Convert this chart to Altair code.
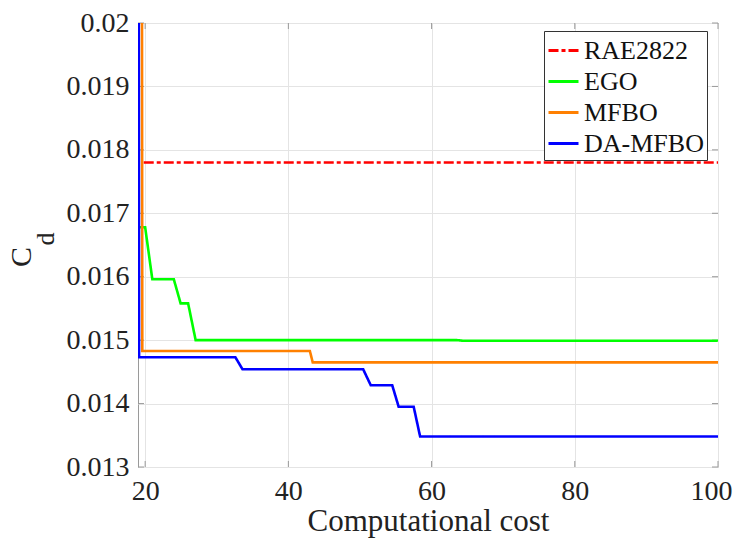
import altair as alt
import pandas as pd

# ---- data ----
series_names = ["RAE2822", "EGO", "MFBO", "DA-MFBO"]
series_colors = ["#ff0000", "#00ff00", "#ff8000", "#0000ff"]

rae_x = [19.8, 100.0]
rae_y = [0.0178, 0.0178]

ego_x = [19.0, 19.0, 20.0, 21.0, 24.0, 24.95, 26.0, 27.05, 63.5, 64.5, 100.0]
ego_y = [0.021, 0.01678, 0.01678, 0.01596, 0.01596, 0.01558, 0.01558, 0.0150, 0.0150, 0.01499, 0.01499]

mfbo_x = [19.55, 19.6, 43.0, 43.4, 100.0]
mfbo_y = [0.021, 0.01483, 0.01483, 0.01465, 0.01465]

da_x = [19.1, 19.15, 32.6, 33.6, 50.45, 51.5, 54.5, 55.4, 57.5, 58.4, 100.0]
da_y = [0.021, 0.01473, 0.01473, 0.01454, 0.01454, 0.01429, 0.01429, 0.01395, 0.01395, 0.01348, 0.01348]

x_ticks = [20, 40, 60, 80, 100]
y_ticks = [0.013, 0.014, 0.015, 0.016, 0.017, 0.018, 0.019, 0.02]
x_domain = [19.0, 100.0]
y_domain = [0.013, 0.02]

x_title = "Computational cost"
y_title_main = "C"
y_title_sub = "d"

# ---- build table ----
rows = []
for name, xs, ys in [("RAE2822", rae_x, rae_y), ("EGO", ego_x, ego_y),
                     ("MFBO", mfbo_x, mfbo_y), ("DA-MFBO", da_x, da_y)]:
    for i, (xv, yv) in enumerate(zip(xs, ys)):
        rows.append({"series": name, "x": xv, "y": yv, "i": i})
df = pd.DataFrame(rows)

FONT = "Liberation Serif"
W, H = 580, 444
AXIS_COLOR = "#9a9a9a"

x_enc = alt.X("x:Q", scale=alt.Scale(domain=x_domain, nice=False, zero=False),
              axis=alt.Axis(values=x_ticks, title=x_title, grid=True, gridColor="#e4e4e4",
                            domain=False, ticks=False, tickSize=0, labelFont=FONT,
                            labelFontSize=28, labelColor="#222", labelPadding=10,
                            labelFlush=1, labelFlushOffset=14, labelOverlap=False,
                            titleFont=FONT, titleFontSize=31, titleFontWeight="normal",
                            titleColor="#222", titleY=63, titleBaseline="alphabetic"))
y_enc = alt.Y("y:Q", scale=alt.Scale(domain=y_domain, nice=False, zero=False),
              axis=alt.Axis(values=y_ticks, title=None, grid=True, gridColor="#e4e4e4",
                            domain=False, ticks=False, tickSize=0, labelFont=FONT,
                            labelFontSize=28, labelColor="#222", labelPadding=9,
                            labelFlush=False, labelOverlap=False, format="~g"))

leg = alt.Legend(title=None, orient="none", legendX=406, legendY=8,
                 labelFont=FONT, labelFontSize=26, labelColor="#111",
                 symbolType="stroke", symbolSize=900, symbolStrokeWidth=3,
                 strokeColor="#333", fillColor="white", padding=3, rowPadding=1,
                 labelOffset=4, cornerRadius=0)
color_enc = alt.Color("series:N", scale=alt.Scale(domain=series_names, range=series_colors),
                      legend=leg)
dash_enc = alt.StrokeDash("series:N",
                          scale=alt.Scale(domain=series_names,
                                          range=[[10, 3, 4, 3], [1, 0], [1, 0], [1, 0]]),
                          legend=leg)


def series_layer(name):
    return (alt.Chart(df).transform_filter(alt.datum.series == name)
            .mark_line(clip=True, strokeWidth=2.6)
            .encode(x=x_enc, y=y_enc, color=color_enc, strokeDash=dash_enc,
                    order=alt.Order("i:Q")))


lines = [series_layer("EGO"), series_layer("MFBO"), series_layer("DA-MFBO"), series_layer("RAE2822")]

xt = pd.DataFrame({"x": x_ticks})
yt = pd.DataFrame({"y": y_ticks})
tick_bottom = alt.Chart(xt).mark_rule(color=AXIS_COLOR).encode(x=x_enc, y=alt.value(H), y2=alt.value(H - 6))
tick_top = alt.Chart(xt).mark_rule(color=AXIS_COLOR).encode(x=x_enc, y=alt.value(0), y2=alt.value(6))
tick_left = alt.Chart(yt).mark_rule(color=AXIS_COLOR).encode(y=y_enc, x=alt.value(0), x2=alt.value(6))
tick_right = alt.Chart(yt).mark_rule(color=AXIS_COLOR).encode(y=y_enc, x=alt.value(W), x2=alt.value(W - 6))

t_main = alt.Chart(pd.DataFrame({"t": [y_title_main]})).mark_text(
    font=FONT, fontSize=30, angle=270, color="#222", baseline="middle", align="center"
).encode(text="t:N", x=alt.value(-116), y=alt.value(234))
t_sub = alt.Chart(pd.DataFrame({"t": [y_title_sub]})).mark_text(
    font=FONT, fontSize=26, angle=270, color="#222", baseline="middle", align="center"
).encode(text="t:N", x=alt.value(-92), y=alt.value(216))

chart = (alt.layer(tick_bottom, tick_top, tick_left, tick_right, *lines, t_main, t_sub)
         .properties(width=W, height=H, autosize=alt.AutoSizeParams(type="none"),
                     padding={"left": 130, "top": 15, "right": 16, "bottom": 71},
                     background="white")
         .configure(font=FONT)
         .configure_axis(labelFont=FONT, titleFont=FONT)
         .configure_legend(labelFont=FONT)
         .configure_text(font=FONT)
         .configure_view(stroke=AXIS_COLOR, strokeWidth=1))

chart.save("out.html", embed_options={"renderer": "svg", "actions": False})
